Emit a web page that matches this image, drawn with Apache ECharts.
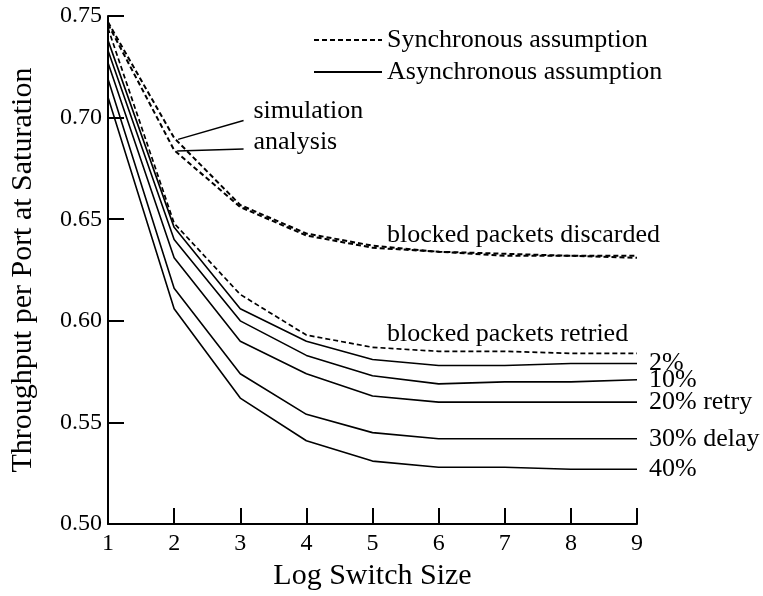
<!DOCTYPE html>
<html>
<head>
<meta charset="utf-8">
<script src="https://cdn.jsdelivr.net/npm/echarts@6/dist/echarts.min.js"></script>
<style>html,body{margin:0;padding:0;background:#fff}#c{width:763px;height:596px}</style>
</head>
<body>
<div id="c"></div>
<script>
// ---- data ----
const logSwitchSize = [1, 2, 3, 4, 5, 6, 7, 8, 9];
const yTicks = [0.50, 0.55, 0.60, 0.65, 0.70, 0.75];
const discardedSimulation = [0.747, 0.690, 0.657, 0.643, 0.637, 0.634, 0.633, 0.632, 0.632];
const discardedAnalysis   = [0.746, 0.684, 0.656, 0.642, 0.636, 0.634, 0.632, 0.632, 0.631];
const retriedSync         = [0.744, 0.648, 0.613, 0.593, 0.587, 0.585, 0.585, 0.584, 0.584];
const retry2   = [0.738, 0.646, 0.606, 0.590, 0.581, 0.578, 0.578, 0.579, 0.579];
const retry10  = [0.733, 0.640, 0.600, 0.583, 0.573, 0.569, 0.570, 0.570, 0.571];
const retry20  = [0.727, 0.631, 0.590, 0.574, 0.563, 0.560, 0.560, 0.560, 0.560];
const retry30  = [0.719, 0.616, 0.574, 0.554, 0.545, 0.542, 0.542, 0.542, 0.542];
const retry40  = [0.710, 0.606, 0.562, 0.541, 0.531, 0.528, 0.528, 0.527, 0.527];
const asyncLabels = ['2%', '10%', '20% retry', '30% delay', '40%'];
const legendNames = ['Synchronous assumption', 'Asynchronous assumption'];

const FONT = "'Liberation Serif', 'Times New Roman', serif";
const pair = arr => logSwitchSize.map((x, i) => [x, arr[i]]);

const dashStyle = w => ({ color: '#000', width: w, type: [5, 3] });
const solidStyle = { color: '#000', width: 1.6, type: 'solid' };

const syncSeries = [discardedSimulation, discardedAnalysis, retriedSync].map((arr, i) => ({
  name: legendNames[0], type: 'line', data: pair(arr), symbol: 'none',
  lineStyle: dashStyle(i < 2 ? 2 : 1.7), itemStyle: { color: '#000' }, silent: true,
  z: 3
}));
syncSeries[0].markLine = {
  silent: true, symbol: 'none', animation: false,
  lineStyle: { color: '#000', width: 1.5, type: 'solid' },
  label: { show: false },
  data: [
    [{ coord: [2.06, 0.6893] }, { coord: [3.05, 0.6986] }],
    [{ coord: [2.045, 0.6836] }, { coord: [3.05, 0.6846] }]
  ]
};

const asyncSeries = [retry2, retry10, retry20, retry30, retry40].map((arr, i) => ({
  name: legendNames[1], type: 'line', data: pair(arr), symbol: 'none',
  lineStyle: solidStyle, itemStyle: { color: '#000' }, silent: true,
  endLabel: { show: true, formatter: asyncLabels[i], distance: 12,
    color: '#000', fontFamily: FONT, fontSize: 26 }
}));

const annotations = {
  type: 'scatter', symbolSize: 0, silent: true, z: 5,
  itemStyle: { opacity: 1, color: '#000' },
  data: [
    [3.2, 0.7030, 'simulation'],
    [3.2, 0.6880, 'analysis'],
    [5.22, 0.6420, 'blocked packets discarded'],
    [5.22, 0.5935, 'blocked packets retried']
  ],
  label: { show: true, position: 'right', distance: 0, formatter: p => p.data[2],
    color: '#000', opacity: 1, fontFamily: FONT, fontSize: 26 }
};

const chart = echarts.init(document.getElementById('c'));
chart.setOption({
  animation: false,
  backgroundColor: '#fff',
  textStyle: { fontFamily: FONT, color: '#000' },
  grid: { left: 108, right: 126, top: 16, bottom: 64 },
  legend: {
    data: legendNames, orient: 'vertical', left: 308, top: 22,
    itemWidth: 68, itemHeight: 14, itemGap: 6, selectedMode: false,
    itemStyle: { opacity: 0, borderWidth: 0 },
    textStyle: { fontFamily: FONT, fontSize: 26, color: '#000' }
  },
  xAxis: {
    type: 'value', min: 1, max: 9, interval: 1,
    name: 'Log Switch Size', nameLocation: 'middle', nameGap: 34,
    nameTextStyle: { fontFamily: FONT, fontSize: 30, color: '#000' },
    axisLine: { lineStyle: { color: '#000', width: 2 } },
    axisTick: { inside: true, length: 16, lineStyle: { color: '#000', width: 2 } },
    axisLabel: { margin: 8, fontFamily: FONT, fontSize: 24, color: '#000' },
    splitLine: { show: false }
  },
  yAxis: {
    type: 'value', min: yTicks[0], max: yTicks[yTicks.length - 1], interval: 0.05,
    name: 'Throughput per Port at Saturation', nameLocation: 'middle', nameGap: 70,
    nameTextStyle: { fontFamily: FONT, fontSize: 30, color: '#000' },
    axisLine: { show: true, lineStyle: { color: '#000', width: 2 } },
    axisTick: { show: true, inside: true, length: 16, lineStyle: { color: '#000', width: 2 } },
    axisLabel: { margin: 6, fontFamily: FONT, fontSize: 24, color: '#000',
      formatter: v => v.toFixed(2) },
    splitLine: { show: false }
  },
  series: [...syncSeries, ...asyncSeries, annotations]
});
</script>
</body>
</html>
